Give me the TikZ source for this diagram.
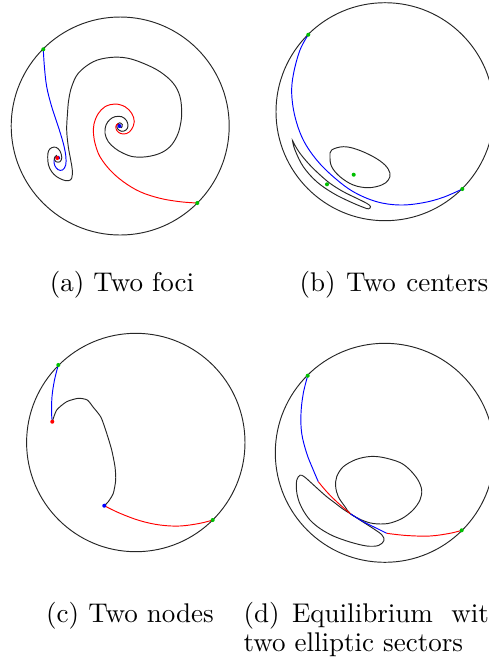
\documentclass[tikz,border=0pt]{standalone}
\begin{document}
\begin{tikzpicture}[x=0.37pt,y=-0.37pt,
  bnd/.style={black!85,line width=0.35pt},
  crv/.style={line width=0.35pt},
  bl/.style={crv,blue},
  rd/.style={crv,red},
  bk/.style={crv,black!85},
  dotg/.style={circle,fill=green!75!black,inner sep=0pt,minimum size=1.5pt},
  dotr/.style={circle,fill=red,inner sep=0pt,minimum size=1.5pt},
  dotb/.style={circle,fill=blue,inner sep=0pt,minimum size=1.5pt},
  captxt/.style={inner sep=0pt,anchor=base,font=\fontsize{10}{12}\selectfont}]
\useasboundingbox (0,0) rectangle (489,666);
\clip (0,0) rectangle (489,666);
% ---------------- (a) Two foci
\draw[bnd] (120.2,126) circle [radius=109];
\coordinate (gA1) at (43.3,49.3);
\coordinate (gA2) at (197.3,203);
\coordinate (fL) at (57.3,158);
\coordinate (fR) at (119.5,126);
\draw[bl] plot[smooth,tension=0.6] coordinates {(gA1) (44.4,66.7) (46.7,86.7) (51.7,106.7) (58.3,126.7) (63.3,143.3) (65.8,156) (65.7,165) (62.5,170) (58,169.6) (54.8,165.5) (54,160.5) (55.8,156.8) (58.7,156.3) (59.6,158.6) (fL)};
\draw[bk] plot[smooth,tension=0.6] coordinates {(fL) (56.5,155.5) (54.3,158.3) (56,161.7) (60,161.7) (61.8,157.5) (60,151) (56,147.3) (51.5,147.8) (48.5,151) (47.7,157) (48.5,165) (51.7,171.7) (56.7,176.7) (63.3,180) (68.3,180.7) (71.7,178.3) (72.3,170) (70.7,160) (68.3,146.7) (66.7,130) (67.5,113.3) (68.7,100) (71.7,86.7) (78.5,73) (93.3,61.7) (110,57.5) (126.7,58) (143.3,63.3) (160,71.7) (173.3,83.3) (180,96.7) (181.7,113.3) (180,126.7) (176.7,136.7) (170,146.7) (160,153.3) (146.7,156.7) (133.3,156.7) (123.3,153.3) (115,148.3) (108.3,141.7) (105,133.3) (106,125) (110,119.5) (115,116.7) (121.7,116.7) (126.5,120.5) (128,126) (126,130) (121.7,131.3) (117.8,129) (116.9,125.3) (119.5,122.8) (122.3,124.5) (121.5,127.5) (fR)};
\draw[rd] plot[smooth,tension=0.6] coordinates {(fR) (117.8,123.8) (115.8,126.5) (117,130.8) (121,133.6) (126.7,133.5) (131.5,129.5) (134.3,121.7) (131.7,113.3) (125,106.7) (115,104) (105,106.7) (98,114) (94,124) (93.5,134) (95.5,145) (100,156.7) (110,170) (123.3,181.7) (140,191.7) (160,198.3) (180,201.7) (gA2)};
\node[dotg] (dA1) at (gA1) {};
\node[dotg] (dA2) at (gA2) {};
\node[dotr] (dA3) at (fL) {};
\node[dotb] (dA4) at (fR) {};
\node[captxt] (capA) at (122,291) {(a) Two foci};
% ---------------- (b) Two centers
\draw[bnd] (385,111.7) circle [radius=109];
\coordinate (gB1) at (308.3,34.7);
\coordinate (gB2) at (462.3,189);
\draw[bl] plot[smooth,tension=0.6] coordinates {(gB1) (300,50) (293.6,73.3) (291.7,93.3) (295,116.7) (303.3,140) (316.7,160) (333.3,176.7) (353.3,191.7) (376.7,201.7) (400,205) (423.3,202.7) (443.3,197.3) (gB2)};
\draw[bk] plot[smooth cycle,tension=0.6] coordinates {(292.5,140.5) (295,150) (303.3,166.7) (316.7,181.7) (333.3,193.3) (350,201.7) (363.3,207.3) (368.5,208.8) (370.5,206.5) (366.7,203.3) (356.7,198.3) (343.3,191.7) (330,183.3) (318.3,173.3) (308.3,163.3) (300,153.3) (294.5,144.5)};
\draw[bk] plot[smooth cycle,tension=0.6] coordinates {(331.7,150) (343.3,146.7) (356.7,149.3) (373.3,156.7) (385,165) (390,173.3) (388.3,180) (381.7,185) (368.3,187.7) (353.3,185) (340,176.7) (331.7,166.7) (330,156.7)};
\node[dotg] (dB1) at (gB1) {};
\node[dotg] (dB2) at (gB2) {};
\node[dotg] (dB3) at (353.7,174.7) {};
\node[dotg] (dB4) at (327,184.3) {};
\node[captxt] (capB) at (394,291) {(b)\hspace{3.9pt}Two\hspace{3.9pt}centers};
% ---------------- (c) Two nodes
\draw[bnd] (135.8,442.5) circle [radius=109.2];
\coordinate (gC1) at (58.3,365);
\coordinate (gC2) at (212.7,520);
\coordinate (rC) at (52.3,421.7);
\coordinate (bC) at (104.3,505.7);
\draw[bl] plot[smooth,tension=0.6] coordinates {(gC1) (54.5,380) (52,396.7) (51.6,413.3) (rC)};
\draw[bk] plot[smooth,tension=0.4] coordinates {(rC) (56.7,410) (66.7,401.7) (78.3,398.3) (87.3,400) (93.3,407.3) (101,417.3) (106.7,433.3) (111.7,450) (115,466.7) (115.7,480) (113.3,493.3) (108.3,501.7) (bC)};
\draw[rd] plot[smooth,tension=0.6] coordinates {(bC) (120,513.3) (140,520.7) (160,525) (180,526) (200,523.3) (gC2)};
\node[dotg] (dC1) at (gC1) {};
\node[dotg] (dC2) at (gC2) {};
\node[dotr] (dC3) at (rC) {};
\node[dotb] (dC4) at (bC) {};
\node[captxt] (capC) at (130,622) {(c) Two nodes};
% ---------------- (d) Two elliptic sectors
\draw[bnd] (384.8,452.8) circle [radius=109.5];
\coordinate (gD1) at (307.7,375.7);
\coordinate (gD2) at (461.7,530.3);
\coordinate (E) at (350.5,513.8);
\coordinate (sw1) at (318.3,481.7);
\coordinate (sw2) at (386.7,533.3);
\draw[bk] plot[smooth cycle,tension=0.55] coordinates {(370,456.5) (383.3,457.5) (400,462.5) (410,470) (418,480) (421.7,490) (420,500) (413,510) (402,518.5) (388,523.5) (373.3,523.5) (361.7,520) (E) (345,506.7) (338.3,496.7) (335.7,486.7) (336.7,476.7) (343.3,466.7) (356,459.5)};
\draw[bk] plot[smooth cycle,tension=0.55] coordinates {(300,475.2) (296.8,480) (296.5,490) (298.5,500) (303,510) (310,520) (320,528.5) (333.3,536) (350,542) (366.7,546) (378.5,545.5) (384,540.5) (382,535) (374,529) (363,522) (E) (343.3,509.3) (335,503) (326.7,496.7) (318,489) (310,481.7) (304,476.5)};
\draw[bl] plot[smooth,tension=0.6] coordinates {(gD1) (303.3,393.3) (301,413.3) (301.7,433.3) (306.7,453.3) (313.3,470) (sw1)};
\draw[rd] plot[smooth,tension=0.6] coordinates {(sw1) (326.7,491.7) (336.7,501.7) (E)};
\draw[bl] plot[smooth,tension=0.6] coordinates {(E) (363.3,521.7) (376.7,528.3) (sw2)};
\draw[rd] plot[smooth,tension=0.6] coordinates {(sw2) (406.7,535.5) (430,536) (450,533.3) (gD2)};
\node[dotg] (dD1) at (gD1) {};
\node[dotg] (dD2) at (gD2) {};
\node[captxt,anchor=base west] (capD1) at (243,622) {(d)\hspace{4.6pt}Equilibrium\hspace{6.8pt}with};
\node[captxt,anchor=base west] (capD2) at (243,651) {two elliptic sectors};
\end{tikzpicture}
\end{document}
